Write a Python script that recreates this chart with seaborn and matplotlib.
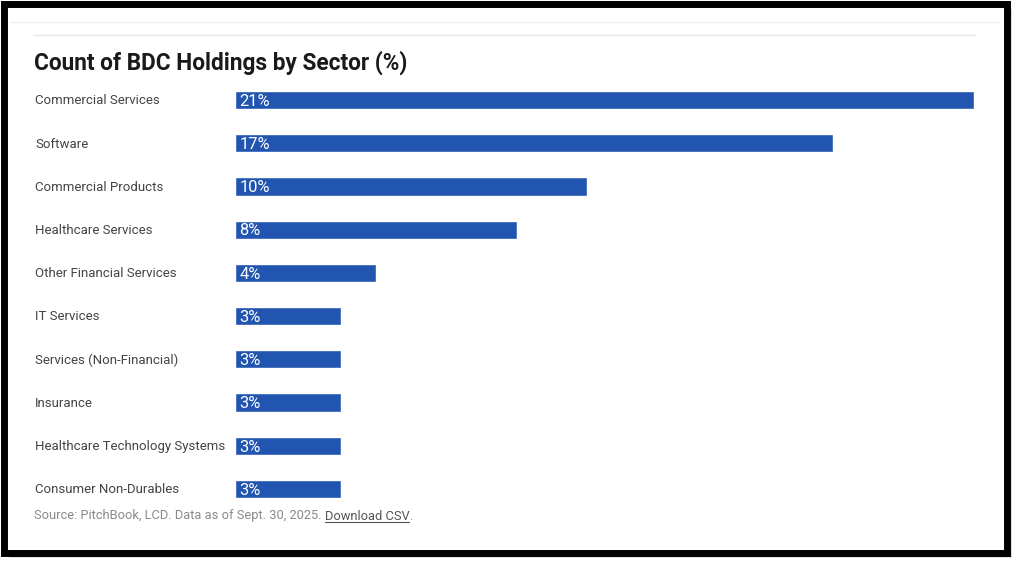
import matplotlib
matplotlib.use("Agg")
import matplotlib.pyplot as plt
import matplotlib.transforms as mtransforms
from matplotlib.patches import Rectangle
import pandas as pd
import seaborn as sns

# data
sectors = [
    "Commercial Services",
    "Software",
    "Commercial Products",
    "Healthcare Services",
    "Other Financial Services",
    "IT Services",
    "Services (Non-Financial)",
    "Insurance",
    "Healthcare Technology Systems",
    "Consumer Non-Durables",
]
shares = [21, 17, 10, 8, 4, 3, 3, 3, 3, 3]
value_labels = ["21%", "17%", "10%", "8%", "4%", "3%", "3%", "3%", "3%", "3%"]

df = pd.DataFrame({"sector": sectors, "share": shares})

sns.set_theme(style="white")
plt.rcParams["font.family"] = ["Roboto", "DejaVu Sans"]

W, H = 1024, 569
fig = plt.figure(figsize=(W / 100, H / 100), dpi=100)
fig.patch.set_facecolor("white")

# frame with soft drop shadow
for k, a in enumerate([0.12, 0.18, 0.25]):
    off = 3 + k
    fig.patches.append(Rectangle(((4 + off) / W, 1 - (553 + off) / H), 1003 / W, 549 / H,
                                 transform=fig.transFigure, facecolor="#808080",
                                 edgecolor="none", alpha=a, zorder=0))
fig.patches.append(Rectangle((4 / W, 1 - 553 / H), 1003 / W, 549 / H,
                             transform=fig.transFigure, facecolor="white",
                             edgecolor="black", linewidth=5, zorder=1))

# thin separator lines at the top
fig.add_artist(plt.Line2D([10 / W, 1000 / W], [1 - 22 / H, 1 - 22 / H],
                          transform=fig.transFigure, color="#f0f0f0", lw=1, zorder=2))
fig.add_artist(plt.Line2D([33 / W, 975 / W], [1 - 35 / H, 1 - 35 / H],
                          transform=fig.transFigure, color="#e8e8e8", lw=1, zorder=2))

fig.text(34 / W, 1 - 63 / H, "Count of BDC Holdings by Sector (%)",
         fontsize=16.3, fontweight="bold", color="#1a1a1a", va="center", ha="left")

ax_left, ax_right = 235 / W, 974 / W
ax_top, ax_bottom = 1 - 78.4 / H, 1 - 510.6 / H
ax = fig.add_axes([ax_left, ax_bottom, ax_right - ax_left, ax_top - ax_bottom])
ax.set_zorder(3)
ax.patch.set_alpha(0)

sns.barplot(data=df, x="share", y="sector", orient="h", color="#2155b0",
            saturation=1, width=0.42, ax=ax)

ax.set_xlim(0, 21)
ax.set_ylim(len(sectors) - 0.5, -0.5)
ax.set_xlabel("")
ax.set_ylabel("")
ax.set_xticks([])
ax.set_yticks([])
for s in ax.spines.values():
    s.set_visible(False)

trans = mtransforms.blended_transform_factory(fig.transFigure, ax.transData)
for i, (name, lab) in enumerate(zip(sectors, value_labels)):
    ax.text(35 / W, i + 0.02, name, transform=trans, ha="left", va="center",
            fontsize=9.5, color="#444444")
    ax.text(0.13, i + 0.03, lab, ha="left", va="center", fontsize=11.8,
            color="white")

src = fig.text(34 / W, 1 - 516 / H, "Source: PitchBook, LCD. Data as of Sept. 30, 2025. ",
               fontsize=9.3, color="#8a8a8a", va="center", ha="left")
fig.canvas.draw()
bb = src.get_window_extent()
x1 = bb.x1 / W
dl = fig.text(x1, 1 - 516 / H, "Download CSV", fontsize=9.3, color="#555555",
              va="center", ha="left")
fig.canvas.draw()
bb2 = dl.get_window_extent()
fig.add_artist(plt.Line2D([bb2.x0 / W, (bb2.x1 - 1) / W], [bb2.y0 / H + 1 / H, bb2.y0 / H + 1 / H],
                          transform=fig.transFigure, color="#555555", lw=0.8))
fig.text(bb2.x1 / W, 1 - 516 / H, ".", fontsize=9.3, color="#8a8a8a",
         va="center", ha="left")

fig.savefig("out.png", dpi=100)
